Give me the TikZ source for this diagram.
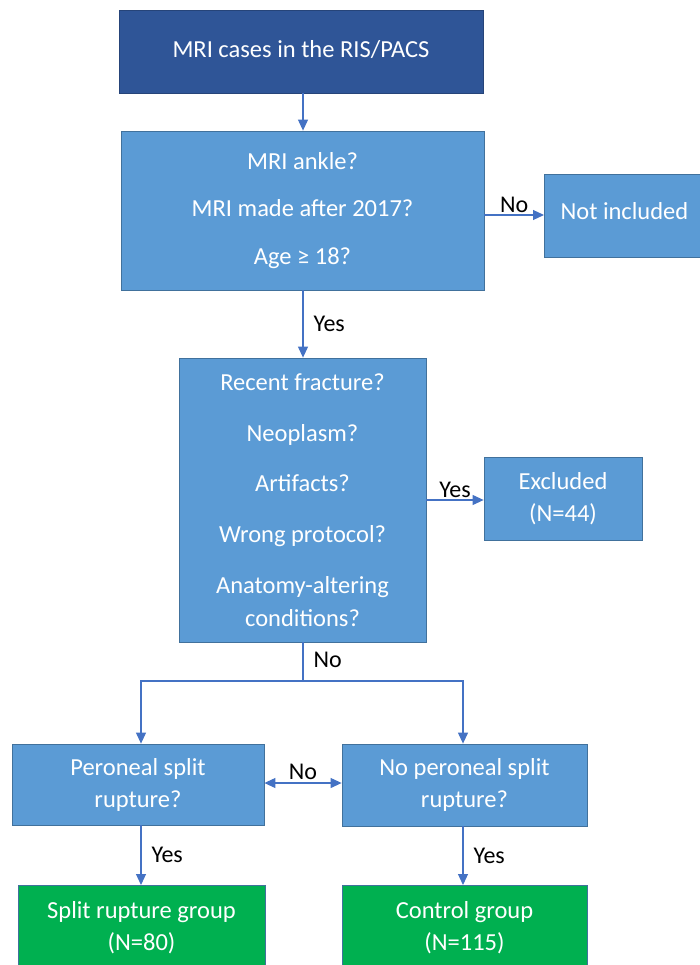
\documentclass[tikz,border=0pt]{standalone}
\usepackage{fontspec}
\setmainfont{Carlito}
\usetikzlibrary{arrows.meta}
\definecolor{darkb}{HTML}{2F5597}
\definecolor{lightb}{HTML}{5B9BD5}
\definecolor{bord}{HTML}{41719C}
\definecolor{greenb}{HTML}{00B050}
\definecolor{arrc}{HTML}{4472C4}
\begin{document}
\begin{tikzpicture}[x=1pt,y=-1pt,
  box/.style={draw=bord,line width=0.8pt,fill=lightb,text=white,align=center,inner sep=0pt,
    font=\fontsize{24.5}{32}\selectfont},
  arr/.style={draw=arrc,line width=1.1pt,-{Triangle[length=11pt,width=10pt]}},
  ln/.style={draw=arrc,line width=1.1pt},
  lab/.style={font=\fontsize{24}{28}\selectfont,text=black,inner sep=0pt}]
\useasboundingbox (0,0) rectangle (700,965);
\node[box,fill=darkb,draw=darkb!80!black,minimum width=364pt,minimum height=83pt] (top) at (301,51.5) {\raisebox{6pt}{MRI cases in the RIS/PACS}};
\node[box,minimum width=363pt,minimum height=159pt,font=\fontsize{24.5}{47.5}\selectfont] (q1) at (302.5,210.5) {MRI ankle?\\MRI made after 2017?\\Age ≥ 18?};
\node[box,minimum width=160pt,minimum height=83pt,anchor=west] (ni) at (544,215.5) {\raisebox{9pt}{Not included}};
\node[box,minimum width=247pt,minimum height=284pt,font=\fontsize{24.5}{50.7}\selectfont] (q2) at (302.5,500) {Recent fracture?\\Neoplasm?\\Artifacts?\\Wrong protocol?\\Anatomy-altering\\[-18pt]conditions?};
\node[box,minimum width=158pt,minimum height=83pt] (ex) at (563,498.5) {Excluded\\(N=44)};
\node[box,minimum width=252pt,minimum height=81pt] (L) at (138,784.5) {Peroneal split\\rupture?};
\node[box,minimum width=245pt,minimum height=82pt] (R) at (464.5,785) {No peroneal split\\rupture?};
\node[box,fill=greenb,minimum width=247pt,minimum height=84pt,anchor=north] (GL) at (141.5,885) {Split rupture group\\(N=80)};
\node[box,fill=greenb,minimum width=245pt,minimum height=84pt,anchor=north] (GR) at (464.5,885) {Control group\\(N=115)};
\coordinate (j) at (303,681);
\coordinate (jl) at (141,681);
\coordinate (jr) at (463,681);
\draw[arr] (top.south -| 303,0) -- (q1.north -| 303,0);
\draw[arr] (q1.south -| 303,0) -- node[lab,right=10pt,pos=0.5] (y1) {Yes} (q2.north -| 303,0);
\draw[arr] (q1.east |- 0,215) -- node[lab,above=2pt] (n1) {No} (ni.west |- 0,215);
\draw[arr] (q2.east |- 0,500) -- node[lab,above=2pt] (y2) {Yes} (ex.west |- 0,500);
\draw[ln] (q2.south -| 303,0) -- node[lab,right=10pt,pos=0.45] (n2) {No} (j);
\draw[arr] (j) -- (jl) -- (jl |- L.north);
\draw[arr] (j) -- (jr) -- (jr |- R.north);
\draw[arr,{Triangle[length=11pt,width=10pt]}-{Triangle[length=11pt,width=10pt]}] (L.east |- 0,783) -- node[lab,above=3pt] (n3) {No} (R.west |- 0,783);
\draw[arr] (L.south -| jl) -- node[lab,right=10pt] (y3) {Yes} (GL.north -| jl);
\draw[arr] (R.south -| jr) -- node[lab,right=10pt] (y4) {Yes} (GR.north -| jr);
\end{tikzpicture}
\end{document}
